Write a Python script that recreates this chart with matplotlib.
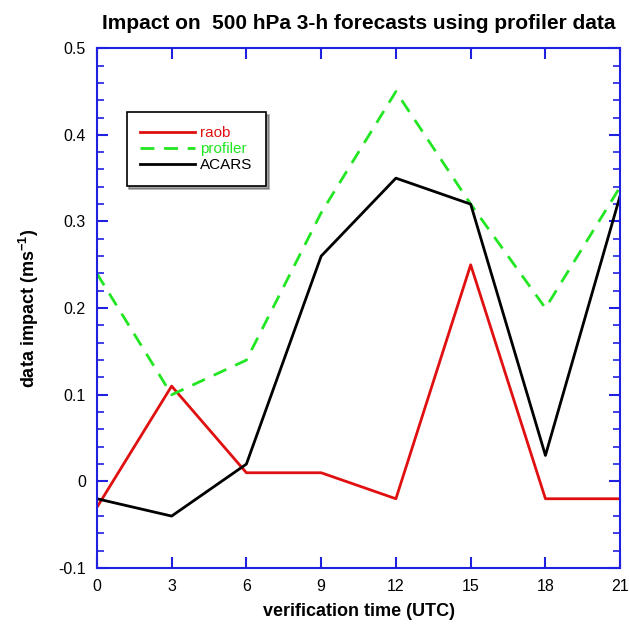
import matplotlib
matplotlib.use('Agg')
from matplotlib import pyplot as plt

plt.rcParams['font.family'] = ['Liberation Sans', 'DejaVu Sans']

# verification times (UTC)
horas = [0, 3, 6, 9, 12, 15, 18, 21]
raob = [-0.03, 0.11, 0.01, 0.01, -0.02, 0.25, -0.02, -0.02]
profiler = [0.24, 0.10, 0.14, 0.31, 0.45, 0.32, 0.20, 0.34]
acars = [-0.02, -0.04, 0.02, 0.26, 0.35, 0.32, 0.03, 0.33]
y_ticks = [-0.1, 0, 0.1, 0.2, 0.3, 0.4, 0.5]
y_labels = ['-0.1', '0', '0.1', '0.2', '0.3', '0.4', '0.5']
y_minor = [round(-0.1 + 0.02 * i, 2) for i in range(31)]

fig = plt.figure(figsize=(6.29, 6.34), dpi=100)
ax = fig.add_axes([0.154, 0.104, 0.832, 0.82])

ax.plot(horas, raob, color='#e01010', lw=2, label='raob')
ax.plot(horas, profiler, color='#22e622', lw=2, ls=(0, (5, 3.5)), label='profiler')
ax.plot(horas, acars, color='black', lw=2, label='ACARS')

ax.set_xlim(0, 21)
ax.set_ylim(-0.1, 0.5)
ax.set_xticks(horas)
ax.set_yticks(y_ticks)
ax.set_yticklabels(y_labels)
ax.set_yticks(y_minor, minor=True)

for s in ax.spines.values():
    s.set_color('#2020e0')
    s.set_linewidth(1.5)
ax.tick_params(which='both', direction='in', top=True, right=True,
               color='#2020e0', labelsize=11.5, pad=8)
ax.tick_params(which='major', length=8, width=1.5)
ax.tick_params(which='minor', length=5, width=1.2)

ax.set_title('Impact on  500 hPa 3-h forecasts using profiler data',
             fontsize=15, fontweight='bold', pad=14)
ax.set_xlabel('verification time (UTC)', fontsize=13, fontweight='bold', labelpad=6)
ax.set_ylabel('data impact (ms$^{\\mathregular{-1}}$)', fontsize=13, fontweight='bold', labelpad=12)

leg = ax.legend(loc='upper left', bbox_to_anchor=(0.057, 0.877), fontsize=11,
                fancybox=False, shadow=True, edgecolor='black', framealpha=1,
                handlelength=3.6, handletextpad=0.3, borderpad=0.9, labelspacing=0.15,
                borderaxespad=0)
leg.get_frame().set_linewidth(1.2)
for txt, c in zip(leg.get_texts(), ['#e01010', '#22e622', 'black']):
    txt.set_color(c)

fig.savefig('out.png', dpi=100)
